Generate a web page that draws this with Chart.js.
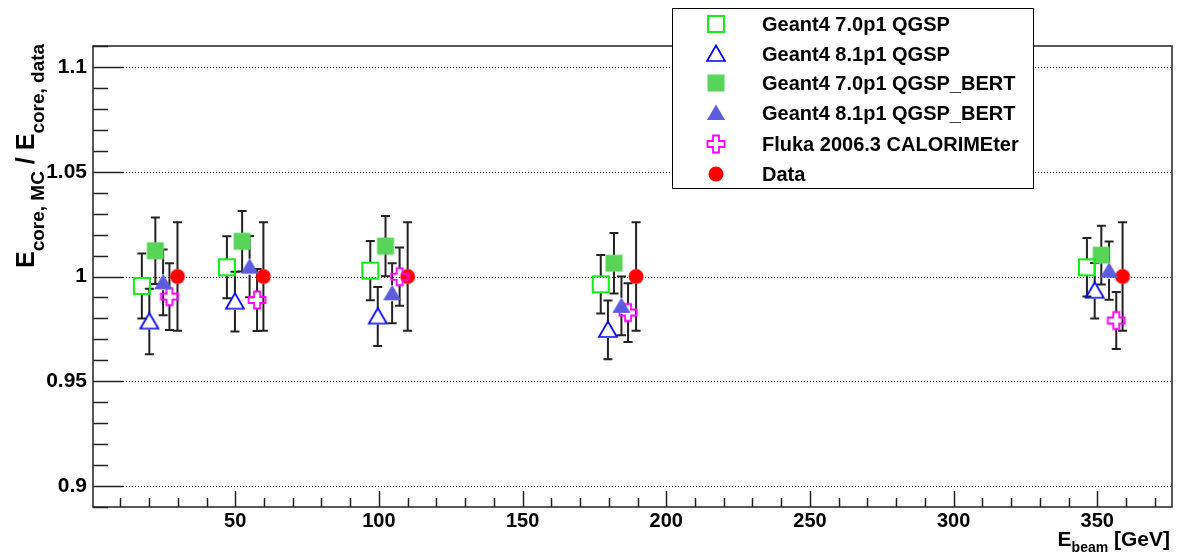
<!DOCTYPE html>
<html>
<head>
<meta charset="utf-8">
<script src="https://cdn.jsdelivr.net/npm/chart.js@4.4.0/dist/chart.umd.min.js"></script>
<style>
  body { margin: 0; background: #fff; }
  #wrap { width: 1181px; height: 555px; }
</style>
</head>
<body>
<div id="wrap"><canvas id="mycanvas" width="1181" height="555"></canvas></div>
<script>
// series names, in legend order
var names = ['Geant4 7.0p1 QGSP', 'Geant4 8.1p1 QGSP', 'Geant4 7.0p1 QGSP_BERT',
             'Geant4 8.1p1 QGSP_BERT', 'Fluka 2006.3 CALORIMEter', 'Data'];

// beam energy (shifted per series), ratio, error
var xG4_70_QGSP = [17.5, 47.1, 97.0, 177.2, 346.4];
var yG4_70_QGSP = [0.9955, 1.0044, 1.0028, 0.9963, 1.0044];
var eG4_70_QGSP = [0.0155, 0.0148, 0.0141, 0.0140, 0.0140];

var xG4_81_QGSP = [20.1, 49.9, 99.6, 179.7, 349.1];
var yG4_81_QGSP = [0.9785, 0.9880, 0.9809, 0.9745, 0.9932];
var eG4_81_QGSP = [0.0156, 0.0143, 0.0141, 0.0140, 0.0132];

var xG4_70_BERT = [22.2, 52.4, 102.3, 181.8, 351.4];
var yG4_70_BERT = [1.0123, 1.0168, 1.0145, 1.0063, 1.0102];
var eG4_70_BERT = [0.0159, 0.0144, 0.0144, 0.0144, 0.0140];

var xG4_81_BERT = [24.9, 55.0, 104.6, 184.4, 354.1];
var yG4_81_BERT = [0.9972, 1.0047, 0.9920, 0.9860, 1.0028];
var eG4_81_BERT = [0.0157, 0.0146, 0.0143, 0.0140, 0.0139];

var xFluka = [27.1, 57.6, 107.2, 186.7, 356.6];
var yFluka = [0.9904, 0.9888, 0.9999, 0.9828, 0.9790];
var eFluka = [0.0159, 0.0148, 0.0139, 0.0140, 0.0136];

var xData = [29.9, 59.8, 110.0, 189.5, 358.8];
var yData = [1.0, 1.0, 1.0, 1.0, 1.0];
var eData = [0.0259, 0.0259, 0.0259, 0.0259, 0.0259];

var xTicks = [50, 100, 150, 200, 250, 300, 350];
var yTicks = [0.9, 0.95, 1, 1.05, 1.1];

var FONT = '"Liberation Sans", Arial, Helvetica, sans-serif';

function pts(xs, ys) {
  var out = [];
  for (var i = 0; i < xs.length; i++) out.push({x: xs[i], y: ys[i]});
  return out;
}

// little canvases used as point styles (ROOT-like markers)
function makeMarker(kind) {
  var c = document.createElement('canvas');
  c.width = 26; c.height = 26;
  var g = c.getContext('2d');
  if (kind == 'openSquare') {
    g.strokeStyle = '#11ee11'; g.lineWidth = 2;
    g.strokeRect(5, 5, 16, 16);
  } else if (kind == 'fullSquare') {
    g.fillStyle = '#58d458';
    g.fillRect(4.5, 4.5, 17, 17);
  } else if (kind == 'openTri' || kind == 'fullTri') {
    g.beginPath();
    g.moveTo(13, 4.5); g.lineTo(4, 20); g.lineTo(22, 20); g.closePath();
    if (kind == 'openTri') { g.strokeStyle = '#0000ff'; g.lineWidth = 1.7; g.stroke(); }
    else { g.fillStyle = '#5c5cdc'; g.fill(); }
  } else if (kind == 'openCross') {
    var p = [[10,4.5],[16,4.5],[16,10],[21.5,10],[21.5,16],[16,16],[16,21.5],[10,21.5],[10,16],[4.5,16],[4.5,10],[10,10]];
    g.beginPath();
    g.moveTo(p[0][0], p[0][1]);
    for (var i = 1; i < p.length; i++) g.lineTo(p[i][0], p[i][1]);
    g.closePath();
    g.strokeStyle = '#ff00ff'; g.lineWidth = 1.8; g.stroke();
  } else {
    g.fillStyle = '#ff0000';
    g.beginPath(); g.arc(13, 13, 7.5, 0, Math.PI * 2); g.fill();
  }
  return c;
}

var markers = [makeMarker('openSquare'), makeMarker('openTri'), makeMarker('fullSquare'),
               makeMarker('fullTri'), makeMarker('openCross'), makeMarker('circle')];

var series = [
  [xG4_70_QGSP, yG4_70_QGSP, eG4_70_QGSP],
  [xG4_81_QGSP, yG4_81_QGSP, eG4_81_QGSP],
  [xG4_70_BERT, yG4_70_BERT, eG4_70_BERT],
  [xG4_81_BERT, yG4_81_BERT, eG4_81_BERT],
  [xFluka, yFluka, eFluka],
  [xData, yData, eData]
];

var datasets = [];
for (var s = 0; s < series.length; s++) {
  datasets.push({
    label: names[s],
    data: pts(series[s][0], series[s][1]),
    errors: series[s][2],
    gap: s == 5 ? 7 : 8,
    pointStyle: markers[s],
    pointRadius: 8,
    showLine: false
  });
}

// dotted grid behind, frame + inward ticks on top
var frame = {
  id: 'frame',
  beforeDatasetsDraw: function(chart) {
    var ctx = chart.ctx, a = chart.chartArea, ys = chart.scales.y;
    ctx.save();
    ctx.strokeStyle = '#000'; ctx.lineWidth = 1;
    ctx.setLineDash([1, 2]);
    yTicks.forEach(function(v) {
      var y = Math.round(ys.getPixelForValue(v)) + 0.5;
      ctx.beginPath(); ctx.moveTo(a.left, y); ctx.lineTo(a.right, y); ctx.stroke();
    });
    ctx.restore();
  },
  afterDatasetsDraw: function(chart) {
    var ctx = chart.ctx, a = chart.chartArea, xs = chart.scales.x, ys = chart.scales.y;
    ctx.save();
    ctx.strokeStyle = '#222'; ctx.lineWidth = 1.5;
    ctx.strokeRect(a.left, a.top, a.right - a.left, a.bottom - a.top);
    ctx.beginPath();
    for (var i = 89; i <= 111; i++) {
      var y = Math.round(ys.getPixelForValue(i / 100)) + 0.5;
      var len = (i % 5 == 0) ? 30 : 15;
      ctx.moveTo(a.left, y); ctx.lineTo(a.left + len, y);
    }
    for (var k = 10; k <= 370; k += 10) {
      var x = Math.round(xs.getPixelForValue(k)) + 0.5;
      var l2 = (k % 50 == 0) ? 16 : 9;
      ctx.moveTo(x, a.bottom); ctx.lineTo(x, a.bottom - l2);
    }
    ctx.stroke();
    ctx.restore();
  }
};

var errorBars = {
  id: 'errorBars',
  beforeDatasetsDraw: function(chart) {
    var ctx = chart.ctx, ys = chart.scales.y;
    ctx.save();
    ctx.strokeStyle = '#222'; ctx.lineWidth = 2;
    chart.data.datasets.forEach(function(ds, i) {
      var meta = chart.getDatasetMeta(i);
      meta.data.forEach(function(pt, j) {
        var v = ds.data[j].y, e = ds.errors[j];
        var top = ys.getPixelForValue(v + e), bot = ys.getPixelForValue(v - e);
        var x = pt.x, y = pt.y;
        ctx.beginPath();
        ctx.moveTo(x, top); ctx.lineTo(x, y - ds.gap);
        ctx.moveTo(x, y + ds.gap); ctx.lineTo(x, bot);
        ctx.moveTo(x - 4.5, top); ctx.lineTo(x + 4.5, top);
        ctx.moveTo(x - 4.5, bot); ctx.lineTo(x + 4.5, bot);
        ctx.stroke();
      });
    });
    ctx.restore();
  }
};

// text with sub-scripts: parts = [text, size, drop]
function drawParts(ctx, parts) {
  var x = 0;
  parts.forEach(function(p) {
    ctx.font = 'bold ' + p[1] + 'px ' + FONT;
    ctx.fillText(p[0], x, p[2]);
    x += ctx.measureText(p[0]).width;
  });
  return x;
}
function partsWidth(ctx, parts) {
  var w = 0;
  parts.forEach(function(p) {
    ctx.font = 'bold ' + p[1] + 'px ' + FONT;
    w += ctx.measureText(p[0]).width;
  });
  return w;
}

var titles = {
  id: 'titles',
  afterDraw: function(chart) {
    var ctx = chart.ctx;
    ctx.save();
    ctx.fillStyle = '#000';
    ctx.textBaseline = 'alphabetic';
    ctx.translate(34, 268);
    ctx.rotate(-Math.PI / 2);
    drawParts(ctx, [['E', 25, 0], ['core, MC', 19, 10], [' / ', 25, 0], ['E', 25, 0], ['core, data', 19, 10]]);
    ctx.restore();

    ctx.save();
    ctx.fillStyle = '#000';
    var xp = [['E', 21, 0], ['beam', 14, 6], [' [GeV]', 21, 0]];
    ctx.translate(1170 - partsWidth(ctx, xp), 546);
    drawParts(ctx, xp);
    ctx.restore();
  }
};

var legendBox = {
  id: 'legendBox',
  afterDraw: function(chart) {
    var ctx = chart.ctx;
    var rows = [24, 54, 83, 113, 144, 174];
    ctx.save();
    ctx.fillStyle = '#fff';
    ctx.fillRect(672, 8, 362, 181);
    ctx.strokeStyle = '#000'; ctx.lineWidth = 1;
    ctx.strokeRect(672.5, 8.5, 361, 180);
    ctx.fillStyle = '#000';
    ctx.font = 'bold 20px ' + FONT;
    ctx.textBaseline = 'middle';
    chart.data.datasets.forEach(function(ds, i) {
      ctx.drawImage(ds.pointStyle, 716 - 13, rows[i] - 13);
      ctx.fillText(ds.label, 762, rows[i] + 1);
    });
    ctx.restore();
  }
};

new Chart(document.getElementById('mycanvas'), {
  type: 'scatter',
  data: { datasets: datasets },
  options: {
    responsive: false,
    animation: false,
    devicePixelRatio: 1,
    events: [],
    layout: { padding: { left: 0, top: 46, right: 9, bottom: 0 } },
    plugins: { legend: { display: false }, tooltip: { enabled: false } },
    scales: {
      x: {
        type: 'linear', min: 0.5, max: 376,
        grid: { display: false, drawTicks: false },
        border: { display: false },
        afterBuildTicks: function(s) { s.ticks = xTicks.map(function(v) { return {value: v}; }); },
        afterFit: function(s) { s.height = 48; },
        ticks: { color: '#000', padding: 2, maxRotation: 0, autoSkip: false,
                 font: { family: FONT, size: 20, weight: 'bold' } }
      },
      y: {
        min: 0.89, max: 1.11,
        grid: { display: false, drawTicks: false },
        border: { display: false },
        afterBuildTicks: function(s) { s.ticks = yTicks.map(function(v) { return {value: v}; }); },
        afterFit: function(s) { s.width = 93; },
        ticks: { color: '#000', padding: 6, autoSkip: false,
                 font: { family: FONT, size: 21, weight: 'bold' },
                 callback: function(v) { return String(v); } }
      }
    }
  },
  plugins: [frame, errorBars, titles, legendBox]
});
</script>
</body>
</html>
